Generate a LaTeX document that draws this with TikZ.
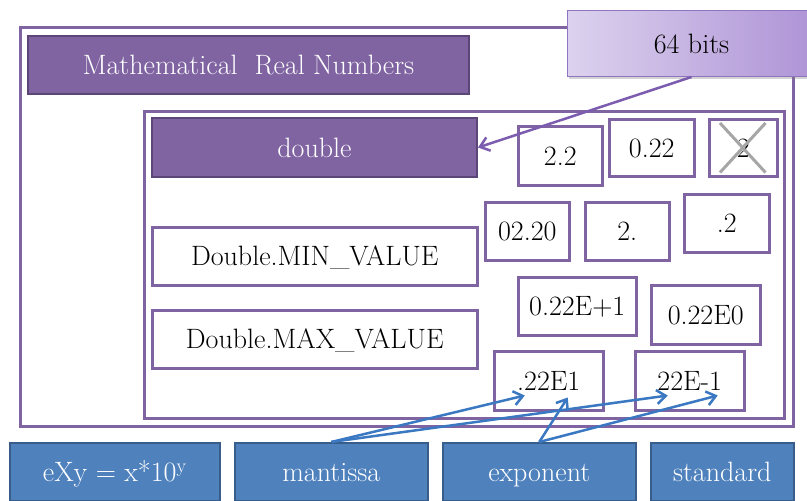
\documentclass[tikz,border=0pt]{standalone}
\usetikzlibrary{arrows.meta,calc,shadows}
\definecolor{frameviolet}{HTML}{8064A2}
\definecolor{headborder}{HTML}{5C4677}
\definecolor{partblue}{HTML}{4F81BD}
\definecolor{partborder}{HTML}{385D8A}
\definecolor{arrowblue}{HTML}{3A78C2}
\definecolor{arrowviolet}{HTML}{7B5CAE}
\definecolor{bitslight}{HTML}{DCD2EE}
\definecolor{bitsdark}{HTML}{AE93D6}
\definecolor{bitsborder}{HTML}{8F74C0}
\definecolor{crossgray}{HTML}{A6A6A6}

\begin{document}
\begin{tikzpicture}[x=1pt,y=-1pt,
  every node/.style={inner sep=0pt,anchor=north west,text height=19pt,text depth=0pt,font=\fontsize{28}{32}\selectfont},
  frame/.style={draw=frameviolet,line width=3pt},
  valbox/.style={draw=frameviolet,line width=2.5pt,fill=white},
  head/.style={fill=frameviolet,draw=headborder,line width=2pt,text=white},
  part/.style={fill=partblue,draw=partborder,line width=1.5pt,text=white,minimum height=58pt},
  tip/.style={-{Straight Barb[length=9pt,width=14pt]},line width=2.5pt}]
\useasboundingbox (0,0) rectangle (807,501);
% frames
\node[frame,minimum width=773pt,minimum height=399pt] (outer) at (19,26) {};
\node[head,minimum width=441pt,minimum height=58pt] (real) at (27,35) {Mathematical~ Real Numbers};
\node[frame,minimum width=640pt,minimum height=307pt] (inner) at (143,110) {};
\node[head,minimum width=325pt,minimum height=59pt] (dbl) at (151,117) {double};
\node[valbox,minimum width=325pt,minimum height=58pt] (minval) at (151,226) {Double.MIN\_VALUE};
\node[valbox,minimum width=325pt,minimum height=58pt] (maxval) at (151,309) {Double.MAX\_VALUE};
% literals
\node[valbox,minimum width=84pt,minimum height=59pt] (lita) at (517,125) {2.2};
\node[valbox,minimum width=85pt,minimum height=57pt] (litb) at (608,118) {0.22};
\node[valbox,minimum width=68pt,minimum height=57pt] (litc) at (708,118) {2};
\node[valbox,minimum width=84pt,minimum height=58pt] (litd) at (484,201) {02.20};
\node[valbox,minimum width=84pt,minimum height=58pt] (lite) at (584,201) {2.};
\node[valbox,minimum width=85pt,minimum height=58pt] (litf) at (683,193) {.2};
\node[valbox,minimum width=118pt,minimum height=58pt] (litg) at (517,276) {0.22E+1};
\node[valbox,minimum width=109pt,minimum height=59pt] (lith) at (650,284) {0.22E0};
\node[valbox,minimum width=109pt,minimum height=59pt] (liti) at (493,350) {.22E1};
\node[valbox,minimum width=109pt,minimum height=59pt] (litj) at (634,350) {22E-1};
\draw[crossgray,line width=3pt] ($(litc.north west)+(12,5)$) -- ($(litc.south east)+(-13,-5)$);
\draw[crossgray,line width=3pt] ($(litc.north east)+(-13,5)$) -- ($(litc.south west)+(12,-5)$);
% size
\node[minimum width=248pt,minimum height=66pt,left color=bitslight,right color=bitsdark,draw=bitsborder,line width=1pt,
  drop shadow={opacity=0.35,shadow xshift=1pt,shadow yshift=-2pt}] (bits) at (567,10) {64 bits};
\draw[tip,arrowviolet] (bits.south) -- (dbl.east);
% parts
\node[part,minimum width=210pt] (sci) at (9,442) {eXy = x*10\textsuperscript{y}};
\node[part,minimum width=193pt] (mant) at (234,442) {mantissa};
\node[part,minimum width=193pt] (expo) at (442,442) {exponent};
\node[part,minimum width=143pt] (std) at (650,442) {standard};
\draw[tip,arrowblue] (mant.north) -- ($(liti.south)+(-24,-16)$);
\draw[tip,arrowblue] (mant.north) -- ($(litj.south)+(-22,-16)$);
\draw[tip,arrowblue] (expo.north) -- ($(liti.south)+(19,-14)$);
\draw[tip,arrowblue] (expo.north) -- ($(litj.south)+(28,-16)$);
\end{tikzpicture}
\end{document}
